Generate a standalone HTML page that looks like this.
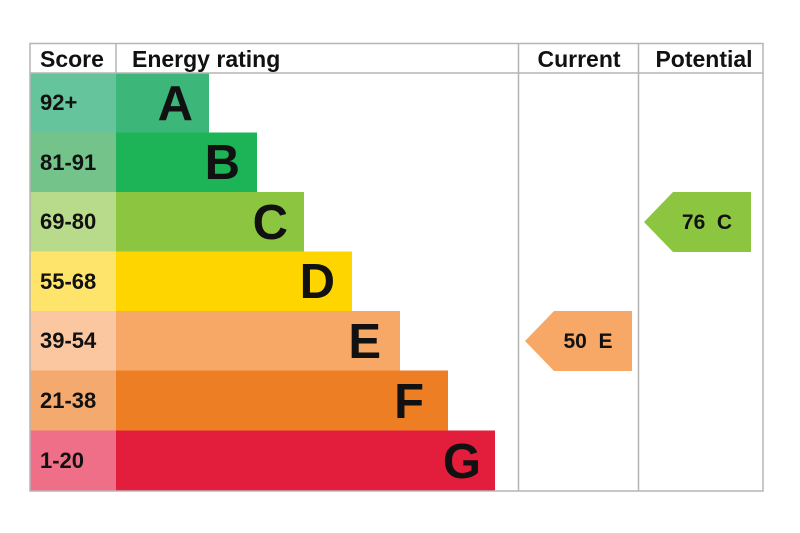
<!DOCTYPE html>
<html><head><meta charset="utf-8"><style>body{margin:0;background:#fff}svg{display:block}</style></head>
<body>
<svg width="800" height="533" viewBox="0 0 800 533" font-family="Liberation Sans, Arial, sans-serif" font-weight="bold">
<rect x="0" y="0" width="800" height="533" fill="#fff"/>
<g>
<rect x="30" y="73" width="86" height="59.5" fill="#66c49c"/><rect x="116" y="73" width="93" height="59.5" fill="#3db67a"/>
<rect x="30" y="132.5" width="86" height="59.5" fill="#73c38b"/><rect x="116" y="132.5" width="141" height="59.5" fill="#1db457"/>
<rect x="30" y="192" width="86" height="59.5" fill="#b8da8b"/><rect x="116" y="192" width="188" height="59.5" fill="#8cc640"/>
<rect x="30" y="251.5" width="86" height="59.5" fill="#ffe46c"/><rect x="116" y="251.5" width="236" height="59.5" fill="#ffd500"/>
<rect x="30" y="311" width="86" height="59.5" fill="#fbc7a0"/><rect x="116" y="311" width="284" height="59.5" fill="#f7a866"/>
<rect x="30" y="370.5" width="86" height="60" fill="#f4a96f"/><rect x="116" y="370.5" width="332" height="60" fill="#ee7e24"/>
<rect x="30" y="430.5" width="86" height="60.5" fill="#ef6e88"/><rect x="116" y="430.5" width="379" height="60.5" fill="#e31d3c"/>
</g>
<g stroke="#b5b5b5" stroke-width="1.5" fill="none">
<rect x="30" y="43.5" width="733" height="447.5"/>
<line x1="30" y1="73" x2="763" y2="73"/>
<line x1="116" y1="43.5" x2="116" y2="73"/>
<line x1="518.5" y1="43.5" x2="518.5" y2="491"/>
<line x1="638.5" y1="43.5" x2="638.5" y2="491"/>
</g>
<g font-size="23" fill="#111">
<text x="40" y="67">Score</text>
<text x="132" y="67">Energy rating</text>
<text x="579" y="67" text-anchor="middle">Current</text>
<text x="704" y="67" text-anchor="middle">Potential</text>
</g>
<g font-size="22" fill="#111">
<text x="40" y="110">92+</text>
<text x="40" y="170">81-91</text>
<text x="40" y="229">69-80</text>
<text x="40" y="289">55-68</text>
<text x="40" y="348">39-54</text>
<text x="40" y="408">21-38</text>
<text x="40" y="468">1-20</text>
</g>
<g font-size="49" fill="#111" text-anchor="end">
<text x="193" y="120">A</text>
<text x="240" y="179">B</text>
<text x="288" y="239">C</text>
<text x="335" y="298">D</text>
<text x="381" y="358">E</text>
<text x="424" y="418">F</text>
<text x="481" y="478">G</text>
</g>
<polygon points="644,222 673,192 751,192 751,252 673,252" fill="#8cc640"/>
<text x="707" y="229" font-size="21" fill="#111" text-anchor="middle">76&#160;&#160;C</text>
<polygon points="525,341 554,311 632,311 632,371 554,371" fill="#f7a866"/>
<text x="588" y="348" font-size="21" fill="#111" text-anchor="middle">50&#160;&#160;E</text>
</svg>
</body></html>
